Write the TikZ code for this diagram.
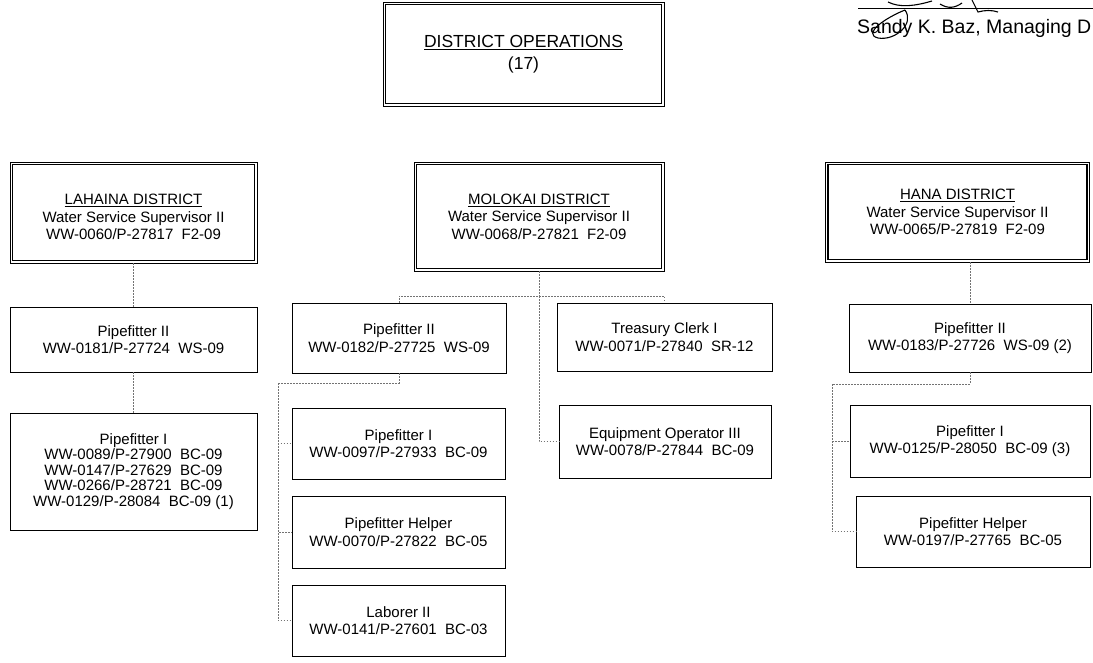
\documentclass[tikz,border=0pt]{standalone}
\usepackage{fontspec}
\setmainfont{Liberation Sans}
\newcommand\bodyf{\fontsize{15}{17.5}\selectfont}
\newcommand\listf{\fontsize{15}{15.6}\selectfont}
\newcommand\headf{\fontsize{17.5}{22}\selectfont}
\newcommand\sigf{\fontsize{19.5}{22}\selectfont}
\newcommand\dframe[1]{\draw[line width=1.5pt] ([shift={(3,3)}]#1.north west) rectangle ([shift={(-3,-3)}]#1.south east);}
\begin{document}
\begin{tikzpicture}[x=1pt,y=-1pt,
  box/.style={draw=black, line width=0.75pt, align=center, inner sep=0pt, font=\bodyf},
  dbox/.style={box, line width=0.6pt},
  conn/.style={draw=black!55, line width=0.5pt, dash pattern=on 1.5pt off 1.5pt}]
\useasboundingbox (0,0) rectangle (1093,662);
\fill[white] (0,0) rectangle (1093,662);

% top
\node[dbox, minimum width=281, minimum height=104, font=\headf] (top) at (523.5,54) {\underline{DISTRICT OPERATIONS}\\(17)};
\dframe{top}

% signature
\draw[line width=0.6pt] (858,8) -- (1093,8);
\draw[line width=1.1pt] (905,10) .. controls (885,18) and (862,34) .. (878,38) .. controls (895,41) and (915,24) .. (905,10);
\draw[line width=1.1pt] (888,2) .. controls (900,8) and (915,6) .. (932,1);
\draw[line width=1.1pt] (940,4) .. controls (948,9) and (955,8) .. (962,3);
\draw[line width=1.1pt] (972,0) -- (978,12) .. controls (985,10) and (992,10) .. (998,12);
\node[anchor=base west, font=\sigf, inner sep=0pt] (sig) at (857,33) {Sandy K. Baz, Managing D};

% Lahaina
\node[dbox, minimum width=247, minimum height=101] (lah) at (133.5,212.5) {\rule{0pt}{20pt}\underline{LAHAINA DISTRICT}\\Water Service Supervisor II\\WW-0060/P-27817~~F2-09};
\dframe{lah}
\node[box, minimum width=247, minimum height=65] (lpf2) at (133.5,339.5) {Pipefitter II\\WW-0181/P-27724~~WS-09};
\node[box, minimum width=247, minimum height=117, font=\listf] (lpf1) at (133.5,471.5) {Pipefitter I\\WW-0089/P-27900~~BC-09\\WW-0147/P-27629~~BC-09\\WW-0266/P-28721~~BC-09\\WW-0129/P-28084~~BC-09 (1)};

% Molokai
\node[dbox, minimum width=250, minimum height=109] (mol) at (539,216.5) {\underline{MOLOKAI DISTRICT}\\Water Service Supervisor II\\WW-0068/P-27821~~F2-09};
\dframe{mol}
\node[box, minimum width=214, minimum height=70] (mpf2) at (399,338) {Pipefitter II\\WW-0182/P-27725~~WS-09};
\node[box, minimum width=215, minimum height=68] (treas) at (664.5,337) {Treasury Clerk I\\WW-0071/P-27840~~SR-12};
\node[box, minimum width=213, minimum height=71] (mpf1) at (398.5,443.5) {Pipefitter I\\WW-0097/P-27933~~BC-09};
\node[box, minimum width=212, minimum height=73] (equip) at (665,441.5) {Equipment Operator III\\WW-0078/P-27844~~BC-09};
\node[box, minimum width=213, minimum height=72] (mhelp) at (398.5,532) {Pipefitter Helper\\WW-0070/P-27822~~BC-05};
\node[box, minimum width=213, minimum height=71] (labor) at (398.5,620.5) {Laborer II\\WW-0141/P-27601~~BC-03};

% Hana
\node[dbox, minimum width=264, minimum height=100] (hana) at (957.5,212) {\underline{HANA DISTRICT}\\Water Service Supervisor II\\WW-0065/P-27819~~F2-09};
\dframe{hana}
\node[box, minimum width=242, minimum height=68] (hpf2) at (970,338) {Pipefitter II\\WW-0183/P-27726~~WS-09 (2)};
\node[box, minimum width=240, minimum height=72] (hpf1) at (970,441) {Pipefitter I\\WW-0125/P-28050~~BC-09 (3)};
\node[box, minimum width=234, minimum height=71] (hhelp) at (973,531.5) {Pipefitter Helper\\WW-0197/P-27765~~BC-05};

% connectors Lahaina
\draw[conn] (lah.south) -- (lpf2.north);
\draw[conn] (lpf2.south) -- (lpf1.north);

% connectors Molokai
\coordinate (mj) at (539,296);
\draw[conn] (mol.south) -- (mj);
\draw[conn] (mpf2.north) |- (mj) -| (treas.north);
\draw[conn] (mj) |- (equip.west);
\coordinate (mb) at (278,383);
\draw[conn] (mpf2.south) |- (mb);
\draw[conn] (mb) |- (mpf1.west);
\draw[conn] (mb) |- (mhelp.west);
\draw[conn] (mb) |- (labor.west);

% connectors Hana
\draw[conn] (hpf2.north |- hana.south) -- (hpf2.north);
\coordinate (hb) at (832,384);
\draw[conn] (hpf2.south) |- (hb);
\draw[conn] (hb) |- (hpf1.west);
\draw[conn] (hb) |- (hhelp.west);
\end{tikzpicture}
\end{document}
